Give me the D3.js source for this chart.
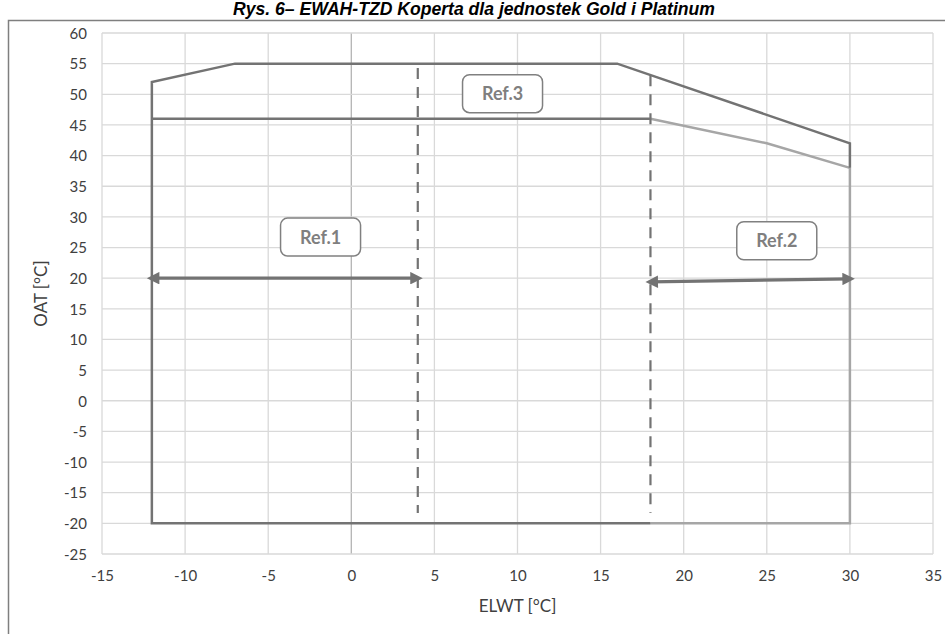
<!DOCTYPE html>
<html>
<head>
<meta charset="utf-8">
<script src="https://cdn.jsdelivr.net/npm/d3@7/dist/d3.min.js"></script>
<style>
  html, body { margin: 0; padding: 0; background: #ffffff; overflow: hidden; }
  svg { display: block; }
</style>
</head>
<body>
<svg id="chart" width="945" height="634"></svg>
<script>
// ---- data ----
const titleText = "Rys. 6– EWAH-TZD Koperta dla jednostek Gold i Platinum";
const xLabel = "ELWT [°C]";
const yLabel = "OAT [°C]";
const xTickValues = [-15, -10, -5, 0, 5, 10, 15, 20, 25, 30, 35];
const yTickValues = [-25, -20, -15, -10, -5, 0, 5, 10, 15, 20, 25, 30, 35, 40, 45, 50, 55, 60];

// operating envelope (ELWT, OAT)
const envelopeDark = [[18, -20], [-12, -20], [-12, 52], [-7, 55], [16, 55], [30, 42], [30, 38]];
const envelopeLight = [[30, 38], [30, -20], [18, -20]];
const innerDark = [[-12, 46], [18, 46]];
const innerLight = [[18, 46], [25, 42], [30, 38]];

// dashed boundaries
const dividers = [
  [[4, 54.3], [4, -18.3]],
  [[18, 53.1], [18, -18.3]]
];

// reference ranges
const refNames = ["Ref.1", "Ref.2", "Ref.3"];
const refArrows = [
  [[-12, 20], [4, 20]],
  [[18, 19.4], [30, 19.9]]
];
// callout anchors in axis units
const refAnchors = [[-1.85, 26.7], [25.6, 26.1], [9.1, 50.1]];

// ---- layout ----
const svg = d3.select("#chart");
const plot = { left: 102, right: 933, top: 33, bottom: 554 };
const fontBody = "Lato, 'Open Sans', sans-serif";

const x = d3.scaleLinear().domain([-15, 35]).range([plot.left, plot.right]);
const y = d3.scaleLinear().domain([-25, 60]).range([plot.bottom, plot.top]);

// chart frame
svg.append("rect")
  .attr("x", 8.5).attr("y", 20.5)
  .attr("width", 960).attr("height", 660)
  .attr("fill", "none").attr("stroke", "#7f7f7f").attr("stroke-width", 1.5);

// title
svg.append("text")
  .attr("x", 474).attr("y", 15)
  .attr("text-anchor", "middle")
  .attr("font-family", "'Liberation Sans', Arial, sans-serif")
  .attr("font-weight", "bold").attr("font-style", "italic")
  .attr("font-size", 17.6).attr("fill", "#000")
  .text(titleText);

// gridlines
const grid = svg.append("g");
grid.selectAll("line.v").data(xTickValues).join("line")
  .attr("x1", d => x(d)).attr("x2", d => x(d))
  .attr("y1", plot.top).attr("y2", plot.bottom)
  .attr("stroke", d => d === 0 ? "#b4b4b4" : "#d9d9d9")
  .attr("stroke-width", 1.3);
grid.selectAll("line.h").data(yTickValues).join("line")
  .attr("x1", plot.left).attr("x2", plot.right)
  .attr("y1", d => y(d)).attr("y2", d => y(d))
  .attr("stroke", "#d9d9d9").attr("stroke-width", 1.3);

// axes (labels only), plain hyphen for negatives
const fmt = d => String(d);
const xAxis = d3.axisBottom(x).tickValues(xTickValues).tickSize(0).tickPadding(0).tickFormat(fmt);
const yAxis = d3.axisLeft(y).tickValues(yTickValues).tickSize(0).tickPadding(0).tickFormat(fmt);

const gx = svg.append("g").attr("transform", `translate(0,${plot.bottom + 16})`).call(xAxis);
const gy = svg.append("g").attr("transform", `translate(${plot.left - 15},0)`).call(yAxis);
[gx, gy].forEach(g => {
  g.select(".domain").remove();
  g.selectAll("text")
    .attr("font-family", fontBody).attr("font-size", 15).attr("fill", "#404040");
});
gx.selectAll("text").attr("dy", "0.71em");
gy.selectAll("text").attr("dy", "0.35em");

// axis titles
svg.append("text")
  .attr("x", (plot.left + plot.right) / 2).attr("y", 612)
  .attr("text-anchor", "middle")
  .attr("font-family", fontBody).attr("font-size", 17).attr("fill", "#404040")
  .text(xLabel);
svg.append("text")
  .attr("transform", `translate(47,${(plot.top + plot.bottom) / 2}) rotate(-90)`)
  .attr("text-anchor", "middle")
  .attr("font-family", fontBody).attr("font-size", 17).attr("fill", "#404040")
  .text(yLabel);

// envelope lines
const line = d3.line().x(d => x(d[0])).y(d => y(d[1]));
const darkGrey = "#737373";
const lightGrey = "#a6a6a6";

svg.append("path").datum(envelopeLight).attr("d", line)
  .attr("fill", "none").attr("stroke", lightGrey).attr("stroke-width", 2.5);
svg.append("path").datum(innerLight).attr("d", line)
  .attr("fill", "none").attr("stroke", lightGrey).attr("stroke-width", 2.5);
svg.append("path").datum(envelopeDark).attr("d", line)
  .attr("fill", "none").attr("stroke", darkGrey).attr("stroke-width", 2.5)
  .attr("stroke-linejoin", "miter");
svg.append("path").datum(innerDark).attr("d", line)
  .attr("fill", "none").attr("stroke", darkGrey).attr("stroke-width", 2.5);

// dashed boundaries
svg.selectAll("path.divider").data(dividers).join("path")
  .attr("class", "divider")
  .attr("d", line)
  .attr("fill", "none").attr("stroke", "#737373").attr("stroke-width", 2.2)
  .attr("stroke-dasharray", "11,8");

// arrow markers
const defs = svg.append("defs");
defs.append("marker")
  .attr("id", "arrowEnd")
  .attr("viewBox", "0 0 10 10").attr("refX", 6).attr("refY", 5)
  .attr("markerWidth", 4.4).attr("markerHeight", 3.8)
  .attr("markerUnits", "strokeWidth")
  .attr("orient", "auto-start-reverse")
  .append("path").attr("d", "M0,0 L10,5 L0,10 Z").attr("fill", "#737373");

svg.selectAll("path.ref-arrow").data(refArrows).join("path")
  .attr("class", "ref-arrow")
  .attr("d", line)
  .attr("fill", "none").attr("stroke", "#737373").attr("stroke-width", 3.3)
  .attr("marker-start", "url(#arrowEnd)").attr("marker-end", "url(#arrowEnd)");

// reference callouts
const boxW = 80, boxH = 38;
const callouts = svg.selectAll("g.callout").data(refNames).join("g")
  .attr("class", "callout")
  .attr("transform", (d, i) => `translate(${x(refAnchors[i][0])},${y(refAnchors[i][1])})`);
callouts.append("rect")
  .attr("x", -boxW / 2).attr("y", -boxH / 2)
  .attr("width", boxW).attr("height", boxH)
  .attr("rx", 7).attr("ry", 7)
  .attr("fill", "#ffffff").attr("stroke", "#808080").attr("stroke-width", 1.5);
callouts.append("text")
  .attr("text-anchor", "middle").attr("dy", "0.36em")
  .attr("font-family", fontBody).attr("font-weight", "bold")
  .attr("font-size", 18).attr("fill", "#7f7f7f")
  .text(d => d);
</script>
</body>
</html>
